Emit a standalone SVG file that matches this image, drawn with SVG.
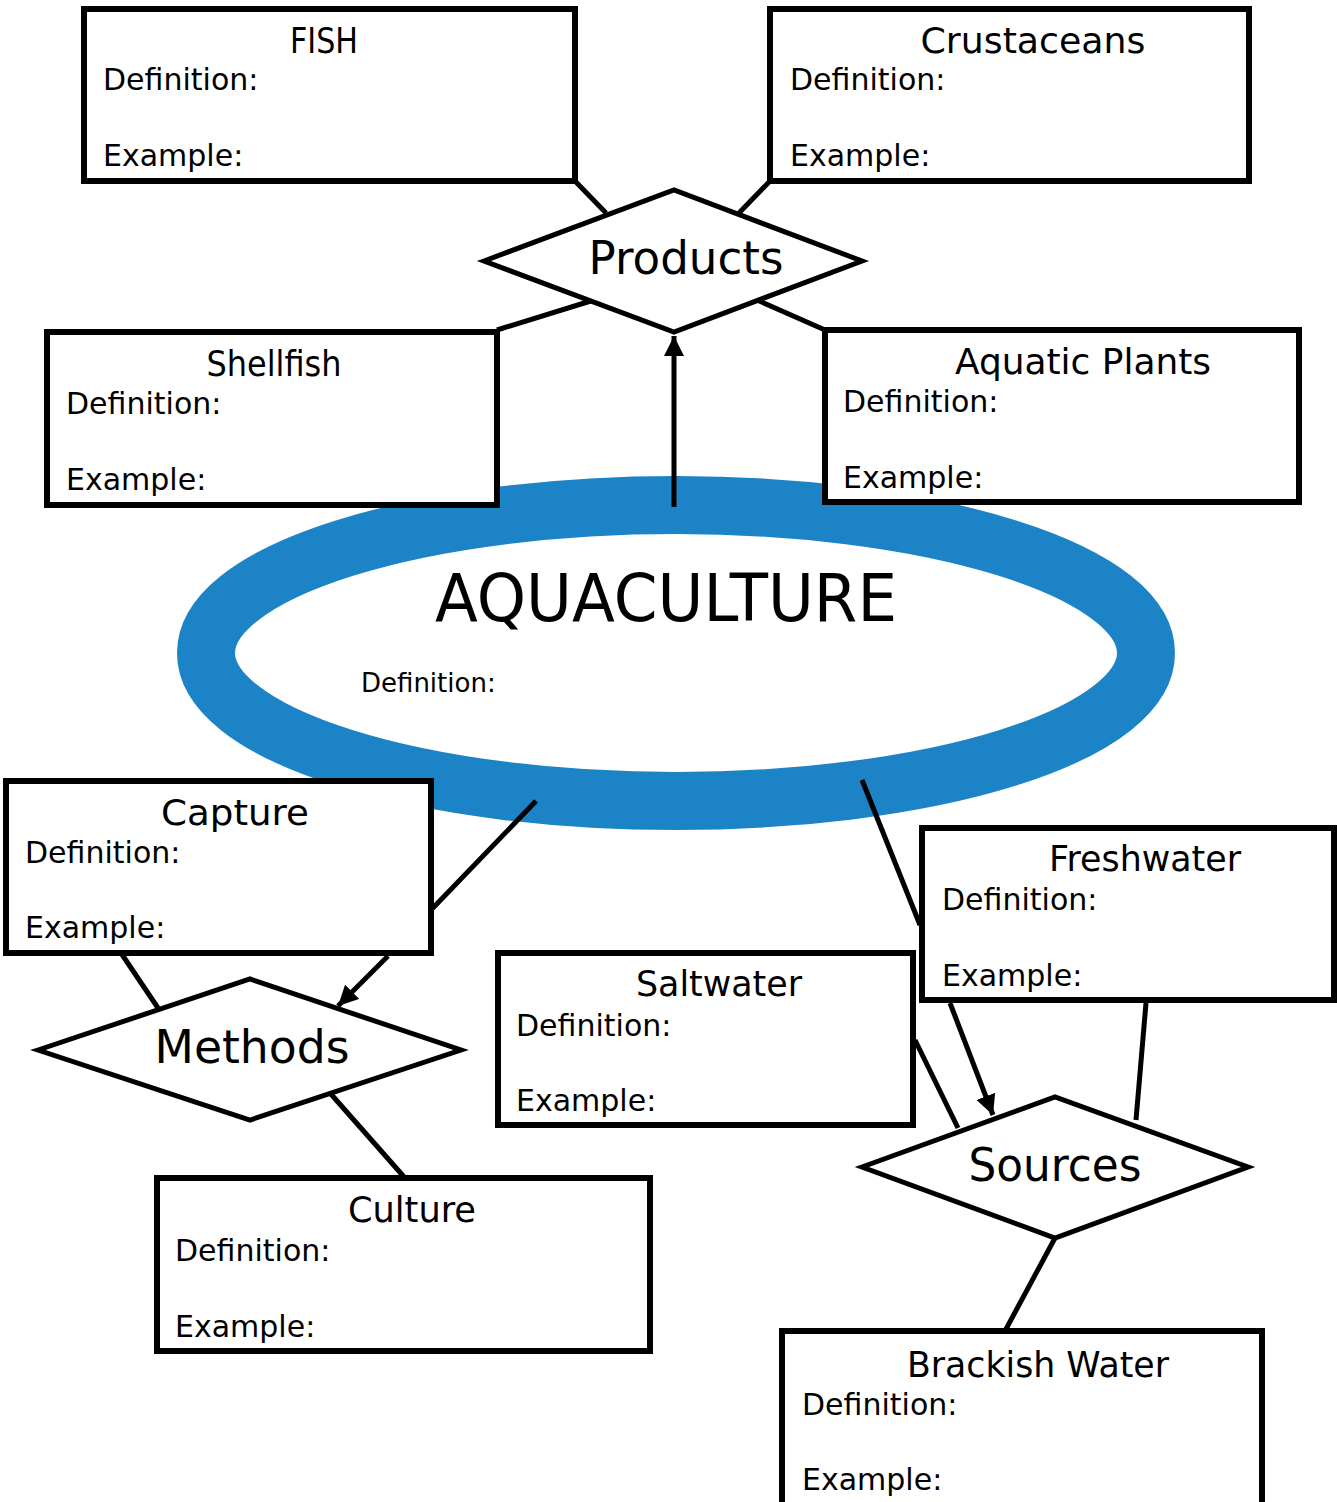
<svg xmlns="http://www.w3.org/2000/svg" width="1337" height="1502" viewBox="0 0 1337 1502">
<style>
.box{fill:#fff;stroke:#000;stroke-width:6}
.dia{fill:#fff;stroke:#000;stroke-width:5;stroke-linejoin:miter}
.t{font-family:"DejaVu Sans",sans-serif;fill:#000}
.title{font-size:35px;text-anchor:middle}
.lbl{font-size:30px}
.big{font-size:46px;text-anchor:middle}
.con{stroke:#000;stroke-width:5;fill:none}
</style>
<defs>
<marker id="ah" markerUnits="userSpaceOnUse" markerWidth="22" markerHeight="22" refX="20" refY="10" orient="auto">
<path d="M0,0 L20,10 L0,20 Z" fill="#000"/>
</marker>
</defs>
<rect width="1337" height="1502" fill="#fff"/>

<g id="aquaculture">
<ellipse cx="676" cy="653" rx="470" ry="148" fill="#fff" stroke="#1c84c6" stroke-width="58"/>
<text class="t" x="666" y="621" font-size="66" text-anchor="middle" textLength="462" lengthAdjust="spacingAndGlyphs">AQUACULTURE</text>
<text class="t" x="361" y="692" font-size="26">Definition:</text>
</g>

<g id="connectors">
<line class="con" x1="575" y1="181" x2="606" y2="213"/>
<line class="con" x1="770" y1="181" x2="739" y2="213"/>
<line class="con" x1="497" y1="330" x2="594" y2="300"/>
<line class="con" x1="825" y1="330" x2="757" y2="300"/>
<line class="con" x1="674" y1="507" x2="674" y2="336" marker-end="url(#ah)"/>
<line class="con" x1="536" y1="801" x2="431" y2="910"/>
<line class="con" x1="121" y1="953" x2="158" y2="1008"/>
<line class="con" x1="388" y1="956" x2="338" y2="1006" marker-end="url(#ah)"/>
<line class="con" x1="330" y1="1093" x2="405" y2="1178"/>
<line class="con" x1="862" y1="780" x2="920" y2="925"/>
<line class="con" x1="950" y1="1003" x2="993" y2="1115" marker-end="url(#ah)"/>
<line class="con" x1="915" y1="1040" x2="958" y2="1128"/>
<line class="con" x1="1146" y1="1003" x2="1136" y2="1120"/>
<line class="con" x1="1055" y1="1238" x2="1005" y2="1331"/>
</g>

<g id="fish">
<rect class="box" x="84" y="9" width="491" height="172"/>
<text class="t title" x="324" y="53" textLength="68" lengthAdjust="spacingAndGlyphs">FISH</text>
<text class="t lbl" x="103" y="90">Definition:</text>
<text class="t lbl" x="103" y="166">Example:</text>
</g>

<g id="crustaceans">
<rect class="box" x="770" y="9" width="479" height="172"/>
<text class="t title" x="1033" y="53" textLength="225" lengthAdjust="spacingAndGlyphs">Crustaceans</text>
<text class="t lbl" x="790" y="90">Definition:</text>
<text class="t lbl" x="790" y="166">Example:</text>
</g>

<g id="products">
<polygon class="dia" points="484,261 674,190 862,261 674,332"/>
<text class="t big" x="686" y="274" textLength="195" lengthAdjust="spacingAndGlyphs">Products</text>
</g>

<g id="shellfish">
<rect class="box" x="47" y="332" width="450" height="173"/>
<text class="t title" x="274" y="376" textLength="135" lengthAdjust="spacingAndGlyphs">Shellfish</text>
<text class="t lbl" x="66" y="414">Definition:</text>
<text class="t lbl" x="66" y="490">Example:</text>
</g>

<g id="aquatic-plants">
<rect class="box" x="825" y="330" width="474" height="172"/>
<text class="t title" x="1083" y="374" textLength="256" lengthAdjust="spacingAndGlyphs">Aquatic Plants</text>
<text class="t lbl" x="843" y="412">Definition:</text>
<text class="t lbl" x="843" y="488">Example:</text>
</g>

<g id="capture">
<rect class="box" x="6" y="781" width="425" height="172"/>
<text class="t title" x="235" y="825" textLength="148" lengthAdjust="spacingAndGlyphs">Capture</text>
<text class="t lbl" x="25" y="863">Definition:</text>
<text class="t lbl" x="25" y="938">Example:</text>
</g>

<g id="methods">
<polygon class="dia" points="38,1050 250,979 461,1050 250,1120"/>
<text class="t big" x="252" y="1063" textLength="195" lengthAdjust="spacingAndGlyphs">Methods</text>
</g>

<g id="culture">
<rect class="box" x="157" y="1178" width="493" height="173"/>
<text class="t title" x="412" y="1222" textLength="128" lengthAdjust="spacingAndGlyphs">Culture</text>
<text class="t lbl" x="175" y="1261">Definition:</text>
<text class="t lbl" x="175" y="1337">Example:</text>
</g>

<g id="saltwater">
<rect class="box" x="498" y="953" width="415" height="172"/>
<text class="t title" x="719" y="996" textLength="166" lengthAdjust="spacingAndGlyphs">Saltwater</text>
<text class="t lbl" x="516" y="1036">Definition:</text>
<text class="t lbl" x="516" y="1111">Example:</text>
</g>

<g id="freshwater">
<rect class="box" x="922" y="828" width="412" height="172"/>
<text class="t title" x="1145" y="871" textLength="192" lengthAdjust="spacingAndGlyphs">Freshwater</text>
<text class="t lbl" x="942" y="910">Definition:</text>
<text class="t lbl" x="942" y="986">Example:</text>
</g>

<g id="sources">
<polygon class="dia" points="862,1167 1055,1097 1248,1167 1055,1238"/>
<text class="t big" x="1055" y="1181" textLength="173" lengthAdjust="spacingAndGlyphs">Sources</text>
</g>

<g id="brackish-water">
<rect class="box" x="782" y="1331" width="480" height="174"/>
<text class="t title" x="1038" y="1377" textLength="262" lengthAdjust="spacingAndGlyphs">Brackish Water</text>
<text class="t lbl" x="802" y="1415">Definition:</text>
<text class="t lbl" x="802" y="1490">Example:</text>
</g>
</svg>
